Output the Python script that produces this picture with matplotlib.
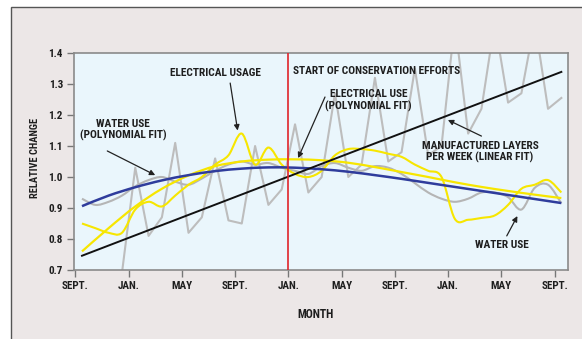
import numpy as np
import matplotlib
matplotlib.use("Agg")
import matplotlib.pyplot as plt
from matplotlib.path import Path
from matplotlib.patches import PathPatch, Rectangle

plt.rcParams["font.family"] = ["Roboto Condensed", "Liberation Sans Narrow",
                               "Open Sans Condensed", "Liberation Sans", "DejaVu Sans"]
plt.rcParams["font.weight"] = "bold"

# Months counted from the first September (0) to the last September (36)
tick_pos = [0, 4, 8, 12, 16, 20, 24, 28, 32, 36]
tick_labels = ["SEPT.", "JAN.", "MAY", "SEPT.", "JAN.", "MAY", "SEPT.", "JAN.", "MAY", "SEPT."]
y_ticks = [0.7, 0.8, 0.9, 1.0, 1.1, 1.2, 1.3, 1.4]
conservation_start = 16

# Monthly samples (mid-month)
months = [m + 0.5 for m in range(37)]

# Manufactured layers per week (raw, monthly)
layers_months = [m + 0.5 for m in range(3, 37)]
layers = [0.69, 1.03, 0.81, 0.87, 1.11, 0.82, 0.87, 1.06, 0.86, 0.85,
          1.10, 0.91, 0.96, 1.17, 0.95, 1.00, 1.27, 1.00, 1.04, 1.32,
          1.05, 1.08, 1.35, 1.07, 1.10, 1.50, 1.14, 1.22, 1.50, 1.24,
          1.27, 1.50, 1.22, 1.255]

# Water use (raw)
water = [0.93, 0.91, 0.92, 0.94, 0.97, 0.99, 1.00, 0.985, 0.975, 0.995,
         1.02, 1.04, 1.05, 1.04, 1.045, 1.03, 1.02, 1.01, 1.035, 1.045,
         1.03, 1.02, 1.035, 1.03, 1.01, 0.98, 0.95, 0.93, 0.92, 0.93,
         0.95, 0.95, 0.935, 0.895, 0.965, 0.975, 0.915]

# Electrical usage (raw)
electric = [0.85, 0.835, 0.82, 0.82, 0.895, 0.92, 0.905, 0.94, 0.975, 1.00,
            1.04, 1.07, 1.14, 1.04, 1.095, 1.04, 1.01, 1.00, 1.02, 1.07,
            1.09, 1.09, 1.085, 1.075, 1.065, 1.04, 1.02, 1.00, 0.865, 0.862,
            0.868, 0.876, 0.91, 0.962, 0.975, 0.99, 0.95]

# Fitted curves, every second month
fit_months = [m + 0.5 for m in range(0, 37, 2)]
electric_fit = [0.760, 0.835, 0.905, 0.962, 1.005, 1.035, 1.050, 1.056, 1.057,
                1.054, 1.046, 1.032, 1.016, 1.000, 0.983, 0.968, 0.955, 0.943, 0.932]
water_fit = [0.906, 0.940, 0.967, 0.989, 1.006, 1.019, 1.027, 1.031, 1.030,
             1.025, 1.017, 1.006, 0.994, 0.981, 0.968, 0.955, 0.942, 0.929, 0.916]
layers_fit_months = [0.5, 36.5]
layers_fit = [0.746, 1.339]


def smooth_curve(ax, xs, ys, **kw):
    """Draw a Catmull-Rom style Bezier curve through the points."""
    p = np.column_stack([xs, ys]).astype(float)
    ext = np.vstack([p[0], p, p[-1]])
    verts = [tuple(p[0])]
    codes = [Path.MOVETO]
    for i in range(len(p) - 1):
        p0, p1, p2, p3 = ext[i], ext[i + 1], ext[i + 2], ext[i + 3]
        c1 = p1 + (p2 - p0) / 6.0
        c2 = p2 - (p3 - p1) / 6.0
        verts += [tuple(c1), tuple(c2), tuple(p2)]
        codes += [Path.CURVE4] * 3
    patch = PathPatch(Path(verts, codes), fill=False, **kw)
    ax.add_patch(patch)
    return patch


W, H = 582, 339
fig = plt.figure(figsize=(W / 100, H / 100), dpi=100, facecolor="white")

# panel behind the chart
fig.patches.append(Rectangle((11 / W, -0.1), 1.2, 1 - 7 / H + 0.1,
                             transform=fig.transFigure, facecolor="#ece7e7",
                             edgecolor="#555555", lw=1.0, zorder=-10))

ax = fig.add_axes([74 / W, 1 - 270 / H, (568 - 74) / W, (270 - 53) / H])
ax.set_zorder(1)
ax.set_facecolor("#eaf6fc")
ax.set_xlim(-0.1, 37.0)
ax.set_ylim(0.7, 1.4)

ax.plot(layers_months, layers, color="#bdbdbd", lw=1.5, zorder=2)
smooth_curve(ax, months, water, edgecolor="#b5b5b5", lw=1.5, zorder=3)
smooth_curve(ax, months, electric, edgecolor="#f7e600", lw=1.5, zorder=4)
smooth_curve(ax, fit_months, electric_fit, edgecolor="#f7e600", lw=1.6, zorder=5)
smooth_curve(ax, fit_months, water_fit, edgecolor="#2f3c9c", lw=1.8, zorder=6)
ax.plot(layers_fit_months, layers_fit, color="#111111", lw=1.4, zorder=7)
ax.axvline(conservation_start, color="#e0242a", lw=1.2, zorder=8)

ax.set_xticks(tick_pos)
ax.set_xticklabels(tick_labels)
ax.set_yticks(y_ticks)
ax.set_yticklabels([f"{v:.1f}" for v in y_ticks])
ax.tick_params(axis="both", direction="out", length=5, width=1.0, color="#777777",
               labelsize=8, labelcolor="#1e1e1e", pad=3)
for s in ax.spines.values():
    s.set_color("#8a8a8a")
    s.set_linewidth(1.2)

txt = dict(fontsize=8.2, color="#1e1e1e", fontweight="bold", zorder=10)
arrow = dict(arrowstyle="-|>", color="#222222", lw=0.9, mutation_scale=8,
             shrinkA=0, shrinkB=0)

ax.text(10.5, 1.335, "ELECTRICAL USAGE", ha="center", va="center", **txt)
ax.annotate("", xy=(12.19, 1.150), xytext=(11.63, 1.303), arrowprops=arrow, zorder=10)

ax.text(3.6, 1.152, "WATER USE\n(POLYNOMIAL FIT)", ha="center", va="center",
        linespacing=1.1, **txt)
ax.annotate("", xy=(6.0, 1.006), xytext=(2.4, 1.084), arrowprops=arrow, zorder=10)

ax.text(16.35, 1.342, "START OF CONSERVATION EFFORTS", ha="left", va="center", **txt)

ax.text(22.0, 1.247, "ELECTRICAL USE\n(POLYNOMIAL FIT)", ha="center", va="center",
        linespacing=1.1, **txt)
ax.annotate("", xy=(16.73, 1.061), xytext=(18.75, 1.258), arrowprops=arrow, zorder=10)

ax.text(30.4, 1.082, "MANUFACTURED LAYERS\nPER WEEK (LINEAR FIT)", ha="center",
        va="center", linespacing=1.1, **txt)
ax.annotate("", xy=(27.98, 1.184), xytext=(30.5, 1.132), arrowprops=arrow, zorder=10)

ax.text(32.0, 0.781, "WATER USE", ha="center", va="center", **txt)
ax.annotate("", xy=(33.2, 0.874), xytext=(32.4, 0.81), arrowprops=arrow, zorder=10)

fig.text(35 / W, 1 - 158 / H, "RELATIVE CHANGE", rotation=90, ha="center",
         va="center", fontsize=7.5, color="#1e1e1e", fontweight="bold")
fig.text(315 / W, 1 - 315 / H, "MONTH", ha="center", va="center",
         fontsize=8.5, color="#1e1e1e", fontweight="bold")

fig.savefig("out.png", dpi=100, facecolor=fig.get_facecolor())
